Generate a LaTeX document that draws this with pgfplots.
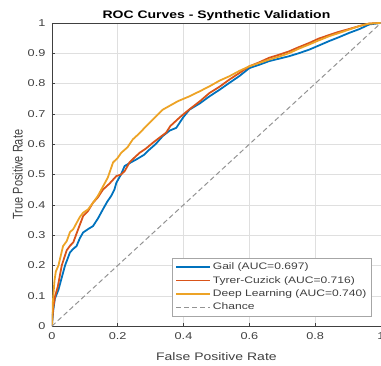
\documentclass[border=0pt]{standalone}
\usepackage{pgfplots}
\pgfplotsset{compat=1.18}
\usepackage{fontspec}
\setmainfont{Liberation Sans}[FakeStretch=1.28]
\newfontfamily\plainfont{Liberation Sans}
\definecolor{mblue}{rgb}{0,0.447,0.741}
\definecolor{mred}{rgb}{0.85,0.325,0.098}
\definecolor{myel}{rgb}{0.929,0.64,0.15}
\definecolor{tickgray}{rgb}{0.25,0.25,0.25}
\begin{document}
\begin{tikzpicture}
\begin{axis}[
  scale only axis,
  width=330bp, height=304bp,
  xmin=0, xmax=1, ymin=0, ymax=1,
  xtick={0,0.2,...,1}, ytick={0,0.1,...,1},
  xticklabels={0,0.2,0.4,0.6,0.8,1},
  yticklabels={0,0.1,0.2,0.3,0.4,0.5,0.6,0.7,0.8,0.9,1},
  grid=major,
  grid style={gray!25, line width=0.5pt},
  axis line style={tickgray, line width=0.6pt},
  tick style={tickgray, line width=0.5pt},
  major tick length=3pt,
  tick align=inside,
  xtick pos=bottom, ytick pos=left,
  tick label style={font=\fontsize{10}{12}\selectfont, text=tickgray},
  xticklabel style={yshift=-3bp},
  yticklabel style={xshift=-3bp},
  /pgf/number format/assume math mode=true,
  xlabel={False Positive Rate},
  ylabel={\scalebox{1}[1.28]{\plainfont True Positive Rate}},
  label style={font=\fontsize{11}{13}\selectfont, text=tickgray},
  xlabel style={yshift=-6bp},
  ylabel style={yshift=-2bp},
  title={ROC Curves - Synthetic Validation},
  title style={font=\bfseries\fontsize{11}{13}\selectfont, yshift=-7bp},
  legend style={at={(0.97,0.033)}, anchor=south east, font=\fontsize{9.5}{11}\selectfont,
    draw=gray!70, line width=0.6pt, row sep=1pt, inner sep=2.5pt, text=tickgray},
  legend cell align=left,
  legend image code/.code={\draw[#1] (0bp,0bp) -- (34bp,0bp);},
  every axis plot/.append style={line join=round},
]
\addplot[mblue, line width=1.8pt] coordinates {
(0,0) (0.004,0.05) (0.009,0.09) (0.02,0.12) (0.03,0.16) (0.04,0.2) (0.055,0.243)
(0.065,0.255) (0.075,0.264) (0.085,0.29) (0.095,0.309) (0.11,0.32) (0.125,0.33)
(0.14,0.355) (0.155,0.385) (0.168,0.41) (0.18,0.429) (0.19,0.45) (0.196,0.473)
(0.21,0.5) (0.221,0.528) (0.24,0.54) (0.257,0.55) (0.28,0.565) (0.297,0.583)
(0.315,0.6) (0.337,0.627) (0.358,0.645) (0.378,0.654) (0.4,0.69) (0.418,0.714)
(0.45,0.735) (0.479,0.758) (0.51,0.78) (0.539,0.802) (0.57,0.825) (0.6,0.851)
(0.63,0.862) (0.66,0.874) (0.69,0.882) (0.72,0.89) (0.75,0.9) (0.782,0.912)
(0.81,0.925) (0.842,0.94) (0.87,0.952) (0.903,0.967) (0.935,0.98) (0.964,0.995) (1,1)};
\addlegendentry{Gail (AUC=0.697)}
\addplot[mred, line width=1.8pt] coordinates {
(0,0) (0.004,0.06) (0.01,0.1) (0.018,0.13) (0.03,0.2) (0.045,0.25) (0.055,0.265)
(0.065,0.276) (0.08,0.32) (0.095,0.363) (0.11,0.38) (0.125,0.407) (0.14,0.425)
(0.155,0.45) (0.175,0.47) (0.196,0.495) (0.21,0.5) (0.221,0.511) (0.236,0.54)
(0.25,0.555) (0.267,0.572) (0.285,0.585) (0.307,0.605) (0.325,0.62) (0.347,0.638)
(0.36,0.66) (0.39,0.69) (0.418,0.715) (0.45,0.742) (0.479,0.769) (0.51,0.79)
(0.539,0.813) (0.57,0.835) (0.6,0.857) (0.63,0.87) (0.66,0.885) (0.69,0.895)
(0.72,0.906) (0.75,0.92) (0.782,0.934) (0.81,0.948) (0.842,0.96) (0.87,0.97)
(0.903,0.98) (0.935,0.99) (0.964,0.998) (1,1)};
\addlegendentry{Tyrer-Cuzick (AUC=0.716)}
\addplot[myel, line width=1.8pt] coordinates {
(0,0) (0.003,0.08) (0.008,0.15) (0.012,0.18) (0.02,0.2) (0.034,0.264) (0.045,0.28)
(0.055,0.31) (0.065,0.32) (0.075,0.34) (0.085,0.36) (0.095,0.374) (0.11,0.385)
(0.125,0.407) (0.14,0.43) (0.155,0.46) (0.17,0.49) (0.186,0.54) (0.2,0.555)
(0.211,0.572) (0.23,0.59) (0.246,0.616) (0.265,0.635) (0.287,0.66) (0.31,0.685)
(0.337,0.714) (0.36,0.728) (0.383,0.742) (0.418,0.758) (0.45,0.775) (0.479,0.791)
(0.51,0.81) (0.539,0.824) (0.57,0.842) (0.6,0.857) (0.63,0.868) (0.66,0.879)
(0.69,0.889) (0.72,0.9) (0.75,0.915) (0.782,0.929) (0.81,0.942) (0.842,0.956)
(0.87,0.966) (0.903,0.978) (0.935,0.99) (0.964,0.998) (1,1)};
\addlegendentry{Deep Learning (AUC=0.740)}
\addplot[gray!85, dash pattern=on 5bp off 3bp, line width=1pt] coordinates {(0,0) (1,1)};
\addlegendentry{Chance}
\coordinate (ll) at (rel axis cs:0,0);
\coordinate (ur) at (rel axis cs:1,1);
\end{axis}
\pgfresetboundingbox
\path ([xshift=-52bp,yshift=-39bp]ll) rectangle ([yshift=23bp]ur);
\end{tikzpicture}
\end{document}
